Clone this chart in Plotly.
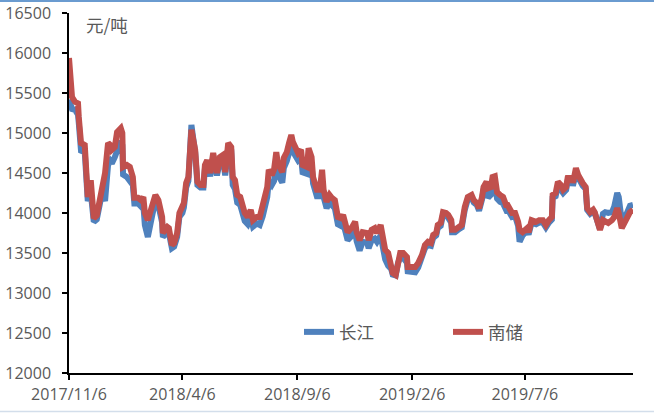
import plotly.graph_objects as go

dates = [
"2017-11-06","2017-11-09","2017-11-10","2017-11-14","2017-11-18","2017-11-19","2017-11-22","2017-11-27","2017-11-30","2017-12-01",
"2017-12-05","2017-12-07","2017-12-09","2017-12-13","2017-12-17","2017-12-20","2017-12-24","2017-12-28","2017-12-31","2018-01-02",
"2018-01-06","2018-01-09","2018-01-14","2018-01-16","2018-01-17","2018-01-22","2018-01-26","2018-01-30","2018-02-01","2018-02-06",
"2018-02-10","2018-02-13","2018-02-15","2018-02-19","2018-02-25","2018-03-01","2018-03-05","2018-03-10","2018-03-11","2018-03-17",
"2018-03-19","2018-03-23","2018-03-26","2018-03-30","2018-04-02","2018-04-06","2018-04-08","2018-04-11","2018-04-14","2018-04-18",
"2018-04-20","2018-04-23","2018-04-26","2018-04-30","2018-05-04","2018-05-06","2018-05-09","2018-05-13","2018-05-17","2018-05-20",
"2018-05-22","2018-05-26","2018-05-30","2018-06-02","2018-06-06","2018-06-10","2018-06-12","2018-06-15","2018-06-18","2018-06-22",
"2018-06-26","2018-06-28","2018-07-02","2018-07-06","2018-07-09","2018-07-14","2018-07-18","2018-07-22","2018-07-28","2018-07-30",
"2018-08-03","2018-08-06","2018-08-09","2018-08-11","2018-08-17","2018-08-19","2018-08-23","2018-08-26","2018-08-29","2018-08-31",
"2018-09-04","2018-09-07","2018-09-11","2018-09-13","2018-09-19","2018-09-21","2018-09-25","2018-09-27","2018-10-02","2018-10-06",
"2018-10-09","2018-10-11","2018-10-15","2018-10-19","2018-10-22","2018-10-26","2018-10-30","2018-11-03","2018-11-06","2018-11-10",
"2018-11-12","2018-11-18","2018-11-22","2018-11-24","2018-11-28","2018-12-02","2018-12-08","2018-12-10","2018-12-14","2018-12-18",
"2018-12-21","2018-12-26","2018-12-29","2019-01-01","2019-01-05","2019-01-09","2019-01-11","2019-01-15","2019-01-18","2019-01-21",
"2019-01-25","2019-01-30","2019-01-31","2019-02-06","2019-02-10","2019-02-14","2019-02-19","2019-02-23","2019-02-27","2019-03-03",
"2019-03-06","2019-03-10","2019-03-12","2019-03-16","2019-03-19","2019-03-23","2019-03-26","2019-03-30","2019-03-31","2019-04-04",
"2019-04-08","2019-04-13","2019-04-17","2019-04-21","2019-04-26","2019-04-29","2019-05-03","2019-05-06","2019-05-10","2019-05-12",
"2019-05-16","2019-05-18","2019-05-22","2019-05-24","2019-05-27","2019-05-30","2019-06-03","2019-06-07","2019-06-11","2019-06-13",
"2019-06-19","2019-06-23","2019-06-27","2019-06-29","2019-07-03","2019-07-09","2019-07-11","2019-07-15","2019-07-21","2019-07-25",
"2019-07-30","2019-08-03","2019-08-07","2019-08-11","2019-08-12","2019-08-16","2019-08-19","2019-08-23","2019-08-26","2019-08-30",
"2019-09-01","2019-09-07","2019-09-08","2019-09-12","2019-09-15","2019-09-19","2019-09-21","2019-09-25","2019-09-27","2019-10-01",
"2019-10-05","2019-10-07","2019-10-10","2019-10-14","2019-10-18","2019-10-21","2019-10-25","2019-10-30","2019-11-02","2019-11-06",
"2019-11-08","2019-11-12","2019-11-16","2019-11-19","2019-11-23","2019-11-27",
]

nanchu = [
15937,15625,15450,15390,15370,15200,14875,14850,14450,14200,
14410,13950,13935,13970,14200,14375,14500,14875,14850,14790,
14825,15010,15060,15000,14575,14600,14575,14450,14190,14190,
14160,14200,14000,13910,14100,14225,14160,13950,13750,13825,
13810,13600,13625,13750,14000,14060,14125,14375,14450,15040,
14950,14790,14390,14350,14350,14600,14660,14500,14750,14540,
14500,14700,14725,14510,14875,14825,14450,14410,14225,14200,
14075,14000,13950,14040,13910,13950,13950,14075,14325,14540,
14475,14540,14760,14625,14510,14690,14760,14875,14975,14890,
14825,14750,14790,14600,14575,14810,14700,14450,14290,14290,
14540,14290,14140,14225,14190,14160,13950,13935,13975,13850,
13760,13825,13890,13760,13660,13760,13750,13660,13790,13810,
13750,13850,13660,13540,13500,13375,13250,13225,13410,13500,
13500,13450,13325,13325,13325,13375,13475,13600,13640,13625,
13725,13750,13850,13875,14010,14000,13975,13910,13790,13790,
13825,13850,14075,14200,14225,14160,14125,14060,14200,14325,
14390,14310,14325,14450,14460,14260,14225,14200,14100,14100,
14000,14000,13890,13790,13760,13810,13760,13910,13890,13910,
13910,13850,13910,13950,14225,14250,14390,14350,14290,14325,
14440,14450,14375,14560,14475,14375,14375,14325,14060,14010,
14040,14010,13910,13790,13910,13890,13875,13910,13950,14060,
14000,13810,13890,13910,14010,14040,
]

changjiang = [
15420,15350,15300,15290,15230,15130,14780,14760,14350,14150,
14250,13900,13890,13920,14150,14250,14150,14600,14650,14620,
14700,14800,14900,14850,14480,14450,14400,14350,14120,14120,
14080,14100,13850,13700,13980,14150,14100,13880,13700,13760,
13750,13560,13580,13700,13950,14000,14070,14320,14400,15100,
14960,14760,14350,14320,14320,14550,14600,14460,14700,14480,
14470,14650,14670,14470,14820,14780,14350,14300,14130,14100,
13980,13900,13860,13950,13830,13870,13850,13960,14200,14400,
14350,14400,14620,14480,14380,14560,14650,14750,14850,14770,
14720,14660,14700,14510,14490,14720,14600,14370,14210,14210,
14400,14200,14060,14140,14100,14060,13860,13840,13880,13750,
13660,13720,13780,13650,13530,13640,13630,13560,13660,13680,
13640,13720,13560,13420,13340,13300,13230,13220,13370,13450,
13440,13380,13270,13270,13260,13320,13430,13560,13600,13590,
13690,13720,13810,13840,13980,13970,13940,13880,13760,13760,
13790,13820,14040,14170,14190,14130,14100,14030,14170,14290,
14340,14190,14230,14350,14380,14180,14140,14120,14040,14050,
13950,13960,13840,13640,13720,13780,13730,13880,13860,13880,
13880,13820,13880,13920,14190,14210,14340,14300,14250,14290,
14400,14410,14340,14500,14430,14340,14340,14300,14040,13990,
14020,14000,13920,13800,13990,14010,14000,14010,14080,14250,
14200,13900,13960,14000,14090,14100,
]

tick_dates = ["2017-11-06", "2018-04-06", "2018-09-06", "2019-02-06", "2019-07-06"]
tick_labels = ["2017/11/6", "2018/4/6", "2018/9/6", "2019/2/6", "2019/7/6"]

TICKFONT = dict(family="Open Sans, Liberation Sans, sans-serif", size=16, color="#595959")
CJK = "Noto Sans CJK SC"
GREY = "#595959"

fig = go.Figure()
fig.add_trace(go.Scatter(x=dates, y=changjiang, mode="lines", name="长江",
                         line=dict(color="#4F81BD", width=6)))
fig.add_trace(go.Scatter(x=dates, y=nanchu, mode="lines", name="南储",
                         line=dict(color="#C0504D", width=6)))

fig.update_layout(
    width=654, height=413, autosize=False,
    margin=dict(l=69, r=21, t=13, b=40, autoexpand=False),
    paper_bgcolor="white", plot_bgcolor="white",
    font=dict(family=CJK, size=16, color=GREY),
    showlegend=True,
    legend=dict(orientation="h", x=(299 - 69) / 564, y=(373 - 332) / 360,
                xanchor="left", yanchor="middle",
                bgcolor="rgba(0,0,0,0)", font=dict(size=17.5, color=GREY, family=CJK),
                entrywidth=104, entrywidthmode="pixels"),
    xaxis=dict(type="date", range=["2017-11-06", "2019-11-27"],
               tickvals=tick_dates, ticktext=tick_labels, automargin=False,
               tickfont=TICKFONT,
               showgrid=False, zeroline=False,
               showline=True, linecolor="black", linewidth=1.5,
               ticks="outside", ticklen=5, tickwidth=1.5, tickcolor="black",
               ticklabelstandoff=1),
    yaxis=dict(range=[12000, 16500], dtick=500, tick0=12000, tickformat="d",
               automargin=False, tickfont=TICKFONT,
               showgrid=False, zeroline=False,
               showline=True, linecolor="black", linewidth=1.5,
               ticks="outside", ticklen=5, tickwidth=1.5, tickcolor="black",
               ticklabelstandoff=8),
    annotations=[dict(text="元/吨", xref="paper", yref="paper",
                      x=(84 - 69) / 564, y=(373 - 25) / 360, xanchor="left", yanchor="middle",
                      showarrow=False, font=dict(size=17.5, color=GREY, family=CJK))],
    shapes=[
        dict(type="line", xref="paper", yref="paper", x0=-69/564, x1=585/564,
             y0=(373 - 1) / 360, y1=(373 - 1) / 360, line=dict(color="#6A9BD0", width=2)),
        dict(type="line", xref="paper", yref="paper", x0=-69/564, x1=585/564,
             y0=(373 - 411.5) / 360, y1=(373 - 411.5) / 360, line=dict(color="#D3DEEB", width=1.5)),
    ],
)

fig.write_html("out.html", config={"displayModeBar": False},
               post_script="document.body.style.margin='0';")
